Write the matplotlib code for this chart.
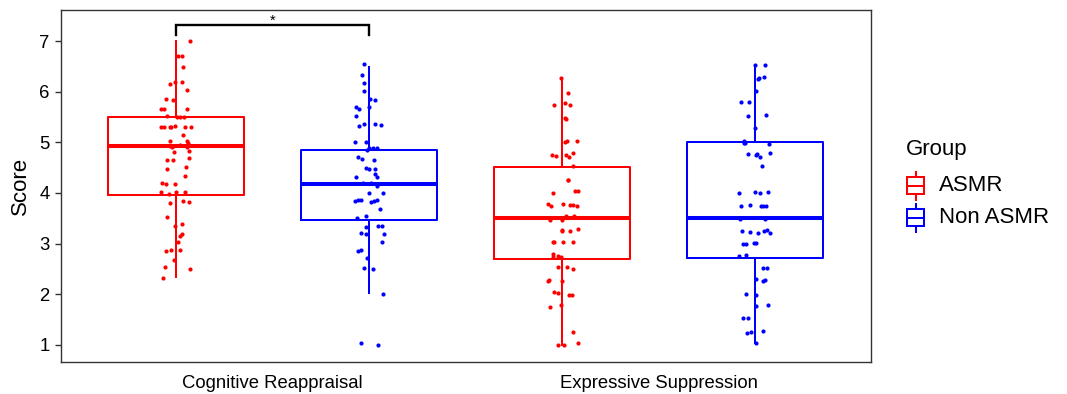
import numpy as np
import matplotlib
matplotlib.use("Agg")
import matplotlib.pyplot as plt
from matplotlib.patches import Rectangle

plt.rcParams['font.family'] = ['Liberation Sans', 'DejaVu Sans']

categories = ["Cognitive Reappraisal", "Expressive Suppression"]
groups = ["ASMR", "Non ASMR"]
colors = {"ASMR": "#FF0000", "Non ASMR": "#0000FF"}

# box statistics: q1, median, q3, whisker low, whisker high
box_stats = {
    ("Cognitive Reappraisal", "ASMR"): (3.97, 4.93, 5.505, 2.35, 7.00),
    ("Cognitive Reappraisal", "Non ASMR"): (3.47, 4.17, 4.84, 2.02, 6.49),
    ("Expressive Suppression", "ASMR"): (2.69, 3.51, 4.52, 1.00, 6.27),
    ("Expressive Suppression", "Non ASMR"): (2.71, 3.50, 5.00, 1.03, 6.53),
}

# jittered points: scores and horizontal jitter (in category units)
cr_asmr = [7.0, 6.70, 6.70, 6.48, 6.16, 6.20, 6.20, 6.03, 5.85, 5.83, 5.66, 5.66, 5.66,
           5.51, 5.50, 5.50, 5.50, 5.31, 5.31, 5.31, 5.31, 5.32, 5.31, 5.31, 5.14, 5.03,
           5.03, 4.98, 4.93, 4.90, 4.95, 4.91, 4.81, 4.82, 4.69, 4.66, 4.66, 4.48, 4.51,
           4.34, 4.19, 4.17, 4.18, 4.02, 3.98, 4.02, 4.02, 3.85, 3.83, 3.81, 3.53, 3.38,
           3.34, 3.20, 3.15, 3.04, 2.85, 2.88, 2.88, 2.67, 2.53, 2.50, 2.32]
cr_asmr_jit = [.037, .006, .016, .018, -.016, -.003, .016, .028, -.025, -.007, -.038, -.031,
               .028, -.023, .003, .010, .021, -.038, -.031, -.017, -.013, -.002, .023, .039,
               .018, -.015, .028, .031, -.017, -.011, .010, .028, -.005, .033, .034, -.024,
               -.008, -.023, .025, .023, -.037, -.025, -.004, -.040, -.018, 0, .023, .018,
               .033, -.017, -.023, .015, -.004, .014, .010, .004, -.026, -.014, .010, -.005,
               -.030, .036, -.033]

cr_non = [6.54, 6.32, 6.17, 6.02, 5.86, 5.83, 5.70, 5.70, 5.66, 5.51, 5.33, 5.36, 5.36,
          5.35, 5.0, 5.0, 4.84, 4.88, 4.88, 4.88, 4.71, 4.68, 4.65, 4.49, 4.47, 4.48, 4.38,
          4.32, 4.32, 4.19, 4.19, 4.14, 4.0, 4.0, 3.85, 3.87, 3.87, 3.83, 3.84, 3.86, 3.69,
          3.51, 3.54, 3.33, 3.35, 3.35, 3.21, 3.19, 3.20, 3.04, 2.85, 2.88, 2.71, 2.51, 2.49,
          2.0, 1.03, 0.99]
cr_non_jit = [-.013, -.018, -.014, -.014, .003, .015, -.001, -.034, -.027, -.034, -.026,
              -.014, .016, .030, -.036, -.009, -.005, 0, .010, .019, -.030, -.019, .013,
              -.009, 0, .016, .015, .021, -.034, -.016, .006, .019, 0, .036, -.036, -.030,
              -.021, .005, .012, .021, .027, -.032, -.007, -.008, .024, .032, -.021, -.009,
              .038, .033, -.028, -.022, -.006, -.013, .010, .037, -.021, .023]

es_asmr = [6.26, 5.98, 5.73, 5.78, 5.73, 5.48, 5.47, 5.00, 5.03, 5.03, 4.75, 4.74, 4.75,
           4.72, 4.78, 4.54, 4.25, 4.25, 3.99, 4.03, 4.03, 3.78, 3.75, 3.78, 3.76, 3.76,
           3.74, 3.47, 3.47, 3.54, 3.54, 3.27, 3.24, 3.24, 3.28, 3.04, 3.04, 3.04, 3.04,
           2.79, 2.74, 2.75, 2.74, 2.54, 2.54, 2.49, 2.26, 2.28, 2.27, 2.04, 2.02, 1.99,
           1.98, 1.75, 1.79, 1.26, 1.00, 1.00, 1.03]
es_asmr_jit = [-.002, .014, -.021, .006, .020, .007, .010, .008, .013, .039, -.026, -.015,
               .011, .018, .028, .027, .014, .016, -.023, .034, .041, -.037, -.028, .003,
               .021, .028, .039, -.032, -.001, .010, .031, -.001, -.001, .019, .041, -.025,
               -.020, .002, .027, -.025, -.023, -.011, -.003, -.011, .013, .027, -.036,
               -.033, -.001, -.021, -.011, .018, .025, -.031, -.004, .028, -.010, .004, .041]

es_non = [6.53, 6.53, 6.25, 6.27, 6.28, 6.02, 5.79, 5.79, 5.52, 5.53, 5.28, 5.02, 4.99,
          4.98, 4.97, 4.77, 4.75, 4.77, 4.72, 4.78, 4.54, 3.99, 4.01, 3.99, 4.02, 3.74,
          3.76, 3.75, 3.75, 3.75, 3.49, 3.49, 3.25, 3.23, 3.22, 3.25, 3.27, 3.22, 2.99,
          3.00, 3.01, 3.01, 2.76, 2.78, 2.52, 2.52, 2.30, 2.26, 2.28, 2.01, 1.99, 1.76,
          1.79, 1.54, 1.53, 1.24, 1.26, 1.28, 1.03]
es_non_jit = [0, .025, .007, .010, .023, .003, -.037, -.015, -.019, .028, -.001, -.030,
              -.027, -.028, .036, -.018, .002, .004, .012, .037, .018, -.041, 0, .013, .034,
              -.038, -.014, .016, .021, .028, -.039, .025, -.034, -.013, .007, .023, .030,
              .037, -.032, -.023, -.003, .002, -.041, -.023, .021, .031, .002, .019, .024,
              -.024, .003, .001, .034, -.032, -.020, -.021, -.012, .019, .001]

points = {
    ("Cognitive Reappraisal", "ASMR"): (cr_asmr, cr_asmr_jit),
    ("Cognitive Reappraisal", "Non ASMR"): (cr_non, cr_non_jit),
    ("Expressive Suppression", "ASMR"): (es_asmr, es_asmr_jit),
    ("Expressive Suppression", "Non ASMR"): (es_non, es_non_jit),
}

W, H = 1067, 394
fig = plt.figure(figsize=(W / 100, H / 100), dpi=100)
ax = fig.add_axes([60.7 / W, 1 - 361.7 / H, 810 / W, 351.4 / H])

dodge = 0.25
box_w = 0.352
lw_box = 1.45
lw_med = 2.9

for i, cat in enumerate(categories):
    for j, grp in enumerate(groups):
        pos = i + 1 + (j - 0.5) * 2 * dodge
        q1, med, q3, lo, hi = box_stats[(cat, grp)]
        c = colors[grp]
        st = [dict(q1=q1, med=med, q3=q3, whislo=lo, whishi=hi, fliers=[])]
        ax.bxp(st, positions=[pos], widths=box_w, showfliers=False, showcaps=False,
               boxprops=dict(color=c, lw=lw_box),
               whiskerprops=dict(color=c, lw=lw_box),
               medianprops=dict(color=c, lw=lw_med, solid_capstyle='butt'),
               manage_ticks=False, zorder=2)
        ys, jit = points[(cat, grp)]
        ax.scatter(pos + np.array(jit), ys, s=9, color=c, linewidths=0, zorder=3)

# significance bracket
x_a = 1 - dodge
x_b = 1 + dodge
ax.plot([x_a, x_a, x_b, x_b], [7.118, 7.315, 7.315, 7.118], color='black', lw=1.7,
        solid_joinstyle='miter', zorder=4, clip_on=False)
ax.text(1.0, 7.33, "*", ha='center', va='baseline', fontsize=10.5, color='black')

ax.set_xlim(0.451, 2.549)
ax.set_ylim(0.67, 7.606)
ax.set_xticks([1, 2])
ax.set_xticklabels(categories)
ax.set_yticks(range(1, 8))
ax.tick_params(axis='x', length=0, pad=9.5, labelsize=13.3, labelcolor='black')
ax.tick_params(axis='y', length=4.1, width=1.0, color='#333333', pad=3.8,
               labelsize=13.3, labelcolor='black')
for s in ax.spines.values():
    s.set_color('#333333')
    s.set_linewidth(1.0)
ax.set_ylabel("Score", fontsize=16)
ax.yaxis.set_label_coords(-0.037, 0.5)

# legend drawn in pixel space
lax = fig.add_axes([0, 0, 1, 1])
lax.set_xlim(0, W)
lax.set_ylim(H, 0)
lax.axis('off')
lax.text(905.7, 149.3, "Group", fontsize=16, va='center', ha='left')
for k, grp in enumerate(groups):
    cy = 185.7 + 32 * k
    c = colors[grp]
    lax.plot([915.5, 915.5], [cy - 14, cy + 14], color=c, lw=lw_box, zorder=2)
    lax.add_patch(Rectangle((906.7, cy - 8.5), 17.6, 17, fill=True, facecolor='white',
                            edgecolor=c, lw=lw_box, zorder=3))
    lax.plot([906.7, 924.3], [cy, cy], color=c, lw=lw_box, zorder=4)
    lax.text(939, cy, grp, fontsize=16, va='center', ha='left')

fig.savefig("out.png", dpi=100)
